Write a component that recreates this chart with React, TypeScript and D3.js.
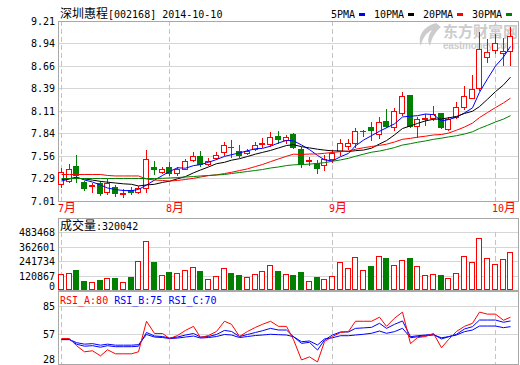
import React, { useEffect, useRef } from 'react';
import * as d3 from 'd3';

const title = '深圳惠程[002168] 2014-10-10';

const opens = [7.214, 7.254, 7.438, 7.246, 7.19, 7.226, 7.116, 7.185, 7.10, 7.14, 7.12, 7.165, 7.425, 7.36, 7.422, 7.349, 7.405, 7.511, 7.56, 7.462, 7.53, 7.613, 7.675, 7.617, 7.593, 7.642, 7.71, 7.703, 7.804, 7.755, 7.829, 7.642, 7.505, 7.478, 7.45, 7.523, 7.625, 7.686, 7.723, 7.86, 7.918, 7.829, 7.991, 7.91, 8.082, 8.306, 7.927, 8.015, 8.028, 8.082, 7.886, 8.04, 8.155, 8.265, 8.387, 8.766, 8.856, 8.823, 8.847];
const highs = [7.413, 7.462, 7.572, 7.26, 7.23, 7.26, 7.276, 7.21, 7.16, 7.18, 7.19, 7.633, 7.50, 7.43, 7.49, 7.42, 7.52, 7.61, 7.62, 7.53, 7.61, 7.727, 7.755, 7.695, 7.65, 7.735, 7.776, 7.857, 7.866, 7.817, 7.845, 7.666, 7.55, 7.51, 7.572, 7.633, 7.768, 7.768, 7.899, 7.88, 7.98, 8.04, 8.13, 8.143, 8.346, 8.31, 8.04, 8.07, 8.17, 8.09, 8.04, 8.224, 8.415, 8.55, 9.079, 8.986, 9.05, 8.998, 9.14];
const lows = [7.185, 7.24, 7.246, 7.145, 7.12, 7.08, 7.10, 7.07, 7.055, 7.09, 7.11, 7.124, 7.34, 7.35, 7.33, 7.33, 7.40, 7.50, 7.44, 7.455, 7.52, 7.572, 7.55, 7.55, 7.58, 7.63, 7.666, 7.682, 7.723, 7.715, 7.654, 7.422, 7.45, 7.356, 7.39, 7.49, 7.572, 7.64, 7.674, 7.80, 7.755, 7.776, 7.918, 7.878, 8.061, 7.92, 7.789, 7.94, 7.999, 7.90, 7.88, 8.02, 8.13, 8.265, 8.367, 8.713, 8.815, 8.672, 8.672];
const closes = [7.368, 7.397, 7.33, 7.165, 7.20, 7.11, 7.226, 7.11, 7.11, 7.12, 7.17, 7.52, 7.405, 7.397, 7.356, 7.40, 7.499, 7.56, 7.462, 7.495, 7.567, 7.691, 7.664, 7.572, 7.625, 7.691, 7.715, 7.796, 7.767, 7.788, 7.666, 7.459, 7.51, 7.41, 7.52, 7.60, 7.715, 7.715, 7.869, 7.87, 7.878, 7.979, 7.927, 8.11, 8.293, 7.927, 8.009, 8.025, 8.07, 7.91, 8.009, 8.155, 8.293, 8.375, 8.864, 8.827, 8.937, 8.847, 9.027];

const ma5 = [7.254, 7.279, 7.303, 7.267, 7.242, 7.205, 7.169, 7.150, 7.138, 7.136, 7.151, 7.205, 7.265, 7.322, 7.370, 7.416, 7.411, 7.442, 7.455, 7.483, 7.517, 7.555, 7.576, 7.598, 7.624, 7.649, 7.653, 7.680, 7.719, 7.751, 7.746, 7.695, 7.638, 7.567, 7.513, 7.500, 7.551, 7.592, 7.684, 7.754, 7.809, 7.862, 7.905, 7.953, 8.037, 8.047, 8.053, 8.073, 8.065, 7.988, 8.005, 8.034, 8.087, 8.148, 8.339, 8.503, 8.659, 8.770, 8.900];
const ma10 = [7.27, 7.285, 7.29, 7.28, 7.265, 7.25, 7.24, 7.23, 7.22, 7.214, 7.194, 7.206, 7.214, 7.237, 7.252, 7.281, 7.309, 7.354, 7.389, 7.426, 7.466, 7.483, 7.509, 7.527, 7.554, 7.583, 7.604, 7.628, 7.658, 7.688, 7.698, 7.674, 7.659, 7.643, 7.632, 7.623, 7.623, 7.615, 7.625, 7.633, 7.655, 7.707, 7.748, 7.818, 7.896, 7.928, 7.958, 7.989, 8.009, 8.013, 8.026, 8.044, 8.080, 8.107, 8.164, 8.254, 8.347, 8.429, 8.524];
const ma20 = [7.334, 7.334, 7.334, 7.334, 7.334, 7.334, 7.322, 7.316, 7.316, 7.316, 7.316, 7.279, 7.267, 7.261, 7.254, 7.261, 7.273, 7.287, 7.303, 7.320, 7.330, 7.345, 7.361, 7.382, 7.403, 7.432, 7.456, 7.491, 7.524, 7.557, 7.582, 7.579, 7.584, 7.585, 7.593, 7.603, 7.614, 7.621, 7.642, 7.661, 7.676, 7.690, 7.704, 7.731, 7.764, 7.776, 7.790, 7.802, 7.817, 7.823, 7.840, 7.875, 7.914, 7.962, 8.030, 8.091, 8.152, 8.209, 8.267];
const ma30 = [7.285, 7.285, 7.285, 7.285, 7.285, 7.285, 7.285, 7.285, 7.285, 7.285, 7.285, 7.285, 7.285, 7.287, 7.291, 7.297, 7.303, 7.309, 7.316, 7.322, 7.328, 7.334, 7.346, 7.358, 7.371, 7.383, 7.395, 7.413, 7.426, 7.443, 7.452, 7.455, 7.461, 7.469, 7.479, 7.496, 7.512, 7.532, 7.557, 7.582, 7.606, 7.621, 7.639, 7.663, 7.694, 7.711, 7.728, 7.744, 7.764, 7.778, 7.793, 7.808, 7.829, 7.856, 7.897, 7.935, 7.976, 8.011, 8.053];

const volumes = [130900, 139200, 166700, 75000, 66700, 83400, 97500, 97500, 64200, 105900, 241700, 408400, 233400, 125000, 150000, 139200, 164200, 189200, 158400, 89200, 114200, 180900, 141700, 125000, 108400, 130900, 158400, 205900, 158400, 133400, 125000, 150000, 75000, 108400, 89200, 114200, 233400, 183400, 272600, 166700, 200000, 283400, 266700, 208400, 250000, 266700, 200000, 125000, 133400, 125000, 100000, 141700, 283400, 233400, 433500, 266700, 216700, 258400, 320042];

const rsiA = [53, 53, 46, 40, 41, 36, 42, 38, 38, 38, 40, 70, 58, 58, 53, 56, 61, 65, 54, 56, 60, 70, 67, 55, 60, 64, 67, 70, 65, 65, 52, 32, 35, 30, 50, 55, 59, 60, 70, 70, 70, 74, 65, 73, 79, 48, 54, 55, 58, 44, 52, 60, 65, 68, 79, 77, 77, 71, 74];
const rsiB = [52, 52, 47.5, 45.5, 46, 44.5, 46, 45, 45, 45, 45.5, 59, 55.5, 55, 53.5, 54.5, 56.5, 58, 54.5, 55, 57, 61, 60, 55, 57, 59, 60.7, 63, 61.4, 61.4, 54.8, 48.3, 49.3, 41.7, 51.6, 56.5, 59.5, 59.5, 63, 63.5, 64, 68, 63, 67, 70.3, 54.8, 55.8, 56.5, 57.2, 52.6, 54.8, 57.2, 62.4, 64.7, 71.2, 71.2, 71.2, 69, 70.3];
const rsiC = [52, 52, 49, 47.5, 48, 46.5, 47.5, 46.5, 46.5, 46.5, 47, 57, 54.5, 54, 53, 53.5, 54.5, 55.5, 53.5, 54, 55, 57, 56.5, 54, 55, 56, 56.5, 57.2, 56.8, 56.5, 54.8, 49.9, 50.6, 46.7, 52.6, 53.8, 55.8, 55.8, 56.5, 57.2, 58.2, 60.4, 58.2, 59.8, 63.1, 53.8, 54.8, 55.8, 56.5, 53.8, 54.8, 56.5, 59.8, 61.4, 65.3, 65.3, 65.3, 63.7, 64.7];

const priceTicks = ['9.21', '8.94', '8.66', '8.39', '8.11', '7.84', '7.56', '7.29', '7.01'];
const volTicks = [483468, 362601, 241734, 120867, 0];
const rsiTicks = [85, 57, 28];

const monthBars = [0, 14, 35, 56];
const monthNames = ['7月', '8月', '9月', '10月'];

const maNames = ['5PMA', '10PMA', '20PMA', '30PMA'];
const maColors = ['#0000ff', '#000000', '#ff0000', '#008000'];

const volumeLabel = '成交量:320042';
const rsiNames = ['RSI_A:80', 'RSI_B:75', 'RSI_C:70'];
const rsiColors = ['#ff0000', '#0000ff', '#0000ff'];

const MONO = '"DejaVu Sans Mono", monospace';
const CJK_FONT = '"Noto Sans CJK SC", sans-serif';
const RED = '#ff0000';
const GREEN = '#008000';
const GRID = '#d6d6d6';
const FRAME = '#a8a8a8';
const DASH = '#c4c4c4';

// draw text where chinese runs get the CJK font and the rest a mono font
function mixedText(parent, str, x, y, fill, anchor = 'start') {
  const t = parent
    .append('text')
    .attr('x', x)
    .attr('y', y)
    .attr('fill', fill)
    .attr('text-anchor', anchor)
    .style('white-space', 'pre');
  const runs = str.match(/[\u3000-\u9fff]+|[^\u3000-\u9fff]+/g) || [];
  runs.forEach((r) => {
    const cjk = /[\u3000-\u9fff]/.test(r);
    t.append('tspan')
      .attr('font-family', cjk ? CJK_FONT : MONO)
      .attr('font-size', cjk ? 12 : 10)
      .text(r);
  });
  return t;
}

function App() {
  const svgRef = useRef<SVGSVGElement>(null);

  useEffect(() => {
    document.body.style.margin = '0';
    const svg = d3.select(svgRef.current);
    svg.selectAll('*').remove();

    const W = 520;
    const left = 58;
    const right = 519;
    const mainTop = 21;
    const mainBottom = 201;
    const volFrameTop = 218;
    const volTop = 232;
    const volBottom = 290;
    const rsiTop = 306;
    const rsiBottom = 364;
    const N = closes.length;

    svg.append('rect').attr('width', W).attr('height', 365).attr('fill', '#ffffff');

    const x = d3
      .scaleBand<number>()
      .domain(d3.range(N))
      .range([57, 57 + N * 7.75])
      .padding(0);
    const cx = (i) => Math.round((x(i) as number) + x.bandwidth() / 2);

    const y = d3.scaleLinear().domain([7.01, 9.21]).range([mainBottom, mainTop]);
    const yv = d3.scaleLinear().domain([0, 483468]).range([volBottom, volTop]);
    const yr = d3.scaleLinear().domain([28, 85]).range([rsiBottom, rsiTop]);

    const grid = svg.append('g').attr('shape-rendering', 'crispEdges');

    // watermark
    const wm = svg.append('g').attr('fill', '#cccccc');
    wm.append('path').attr(
      'd',
      'M436,23 C424,26 417,36 421,46 C422,39 426,33 432,30 C428,36 427,41 430,46 C432,37 436,31 441,27 C439,26 438,24 436,23 Z'
    );
    wm.append('text')
      .attr('x', 443)
      .attr('y', 37)
      .attr('font-family', CJK_FONT)
      .attr('font-size', 15)
      .attr('font-weight', 'bold')
      .text('东方财富网');
    wm.append('text')
      .attr('x', 443)
      .attr('y', 49)
      .attr('font-family', 'Arial, "Liberation Sans", sans-serif')
      .attr('font-size', 10)
      .attr('font-weight', 'bold')
      .attr('textLength', 72)
      .text('eastmoney.com');

    // horizontal grid and tick labels
    priceTicks.forEach((t) => {
      const yy = Math.round(y(+t)) + 0.5;
      grid.append('line').attr('x1', left).attr('x2', right).attr('y1', yy).attr('y2', yy).attr('stroke', GRID);
      mixedText(svg, t, 55, Math.round(y(+t)) + 4, '#000', 'end');
    });
    volTicks.forEach((t) => {
      const yy = Math.round(yv(t)) + 0.5;
      if (t > 0) {
        grid.append('line').attr('x1', left).attr('x2', right).attr('y1', yy).attr('y2', yy).attr('stroke', GRID);
      }
      mixedText(svg, String(t), 55, Math.min(Math.round(yv(t)), volBottom - 4) + 4, '#000', 'end');
    });
    rsiTicks.forEach((t) => {
      const yy = Math.round(yr(t)) + 0.5;
      if (t > 28) {
        grid.append('line').attr('x1', left).attr('x2', right).attr('y1', yy).attr('y2', yy).attr('stroke', GRID);
      }
      mixedText(svg, String(t), 55, Math.min(Math.round(yr(t)), rsiBottom - 5) + 4, '#000', 'end');
    });

    // month dashed lines
    monthBars.forEach((b, k) => {
      const xx = cx(b) + 0.5;
      [
        [mainTop, mainBottom],
        [volTop, volBottom],
        [rsiTop, rsiBottom],
      ].forEach(([a, c]) => {
        grid.append('line').attr('x1', xx).attr('x2', xx).attr('y1', a).attr('y2', c).attr('stroke', DASH).attr('stroke-dasharray', '5,3');
      });
      mixedText(svg, monthNames[k], cx(b) - 3, 212, RED);
    });

    // frames
    const frames = [
      [mainTop, mainBottom],
      [volFrameTop, volBottom],
      [volBottom + 1, rsiBottom],
    ];
    frames.forEach(([a, c]) => {
      grid
        .append('rect')
        .attr('x', left + 0.5)
        .attr('y', a + 0.5)
        .attr('width', right - left - 1)
        .attr('height', c - a)
        .attr('fill', 'none')
        .attr('stroke', FRAME);
    });

    // header
    mixedText(svg, title, 60, 18, '#000');
    let lx = 331;
    maNames.forEach((nm, k) => {
      mixedText(svg, nm, lx, 18, '#000');
      const tw = nm.length * 6;
      svg.append('rect').attr('x', lx + tw + 4).attr('y', 13).attr('width', 6).attr('height', 3).attr('fill', maColors[k]);
      lx += tw + 19;
    });

    // candles
    const cg = svg.append('g').attr('shape-rendering', 'crispEdges');
    closes.forEach((c, i) => {
      const o = opens[i];
      const up = c >= o;
      const col = up ? RED : GREEN;
      const px = cx(i);
      const yO = Math.round(y(o));
      const yC = Math.round(y(c));
      const yH = Math.round(y(highs[i]));
      const yL = Math.round(y(lows[i]));
      const top = Math.min(yO, yC);
      const bot = Math.max(yO, yC);
      if (bot - top < 1) {
        cg.append('line').attr('x1', px + 0.5).attr('x2', px + 0.5).attr('y1', yH).attr('y2', yL + 1).attr('stroke', col);
        cg.append('line').attr('x1', px - 3).attr('x2', px + 3).attr('y1', top + 0.5).attr('y2', top + 0.5).attr('stroke', col);
        return;
      }
      if (up) {
        cg.append('line').attr('x1', px + 0.5).attr('x2', px + 0.5).attr('y1', yH).attr('y2', top).attr('stroke', col);
        cg.append('line').attr('x1', px + 0.5).attr('x2', px + 0.5).attr('y1', bot + 1).attr('y2', yL + 1).attr('stroke', col);
        cg.append('rect').attr('x', px - 2.5).attr('y', top + 0.5).attr('width', 5).attr('height', bot - top).attr('fill', '#fff').attr('stroke', col);
      } else {
        cg.append('line').attr('x1', px + 0.5).attr('x2', px + 0.5).attr('y1', yH).attr('y2', yL + 1).attr('stroke', col);
        cg.append('rect').attr('x', px - 2.5).attr('y', top + 0.5).attr('width', 5).attr('height', bot - top).attr('fill', col).attr('stroke', col);
      }
    });

    // moving averages
    const line = d3
      .line<number>()
      .x((d, i) => cx(i) + 0.5)
      .y((d) => y(d));
    [ma5, ma10, ma20, ma30].forEach((s, k) => {
      svg.append('path').attr('d', line(s)).attr('fill', 'none').attr('stroke', maColors[k]).attr('stroke-width', 1);
    });

    // volume
    mixedText(svg, volumeLabel, 60, 230, '#000');
    const vg = svg.append('g').attr('shape-rendering', 'crispEdges');
    volumes.forEach((v, i) => {
      const up = closes[i] >= opens[i];
      const px = cx(i);
      const vy = Math.round(yv(v));
      vg.append('rect')
        .attr('x', px - 2.5)
        .attr('y', vy + 0.5)
        .attr('width', 5)
        .attr('height', volBottom - 1 - vy)
        .attr('fill', up ? '#fff' : GREEN)
        .attr('stroke', up ? RED : GREEN);
    });

    // rsi
    const t = svg.append('text').attr('x', 60).attr('y', 304).style('white-space', 'pre').attr('font-family', MONO).attr('font-size', 10);
    rsiNames.forEach((nm, k) => {
      t.append('tspan').attr('fill', rsiColors[k]).text((k > 0 ? ' ' : '') + nm);
    });
    const rline = d3
      .line<number>()
      .x((d, i) => cx(i) + 0.5)
      .y((d) => yr(d));
    [rsiC, rsiB, rsiA].forEach((s, k) => {
      svg.append('path').attr('d', rline(s)).attr('fill', 'none').attr('stroke', k === 2 ? RED : '#0000ff').attr('stroke-width', 1);
    });
  }, []);

  return <svg ref={svgRef} width={520} height={365} style={{ display: 'block' }} />;
}

export default App;
